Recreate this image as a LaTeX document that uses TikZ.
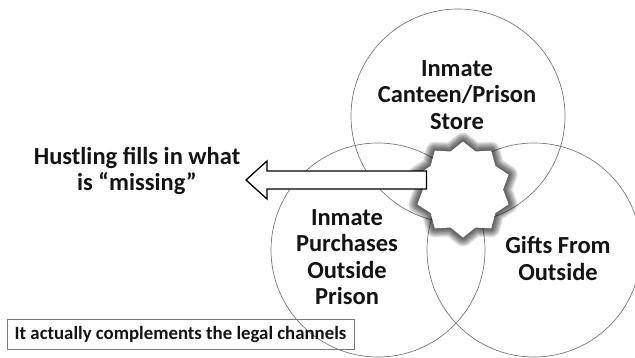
\documentclass[tikz,border=0pt]{standalone}
\usepackage{fontspec}
\setmainfont{Carlito}
\usetikzlibrary{shapes.geometric}
\definecolor{ink}{RGB}{20,20,20}
\definecolor{ring}{RGB}{120,120,120}
\tikzset{
  ringc/.style={circle, draw=ring, line width=0.7pt, minimum size=214pt, inner sep=0pt},
  bigtxt/.style={font=\bfseries\fontsize{24.5}{26.5}\selectfont, text=ink, align=center, inner sep=0pt},
  starshape/.style={star, star points=10, star point ratio=1.2, minimum size=96pt, inner sep=0pt},
  glow/.style={starshape, draw=black, line join=round, opacity=0.1},
  boxtxt/.style={font=\bfseries\fontsize{18.8}{21}\selectfont, text=ink, draw=ring, line width=0.7pt, inner xsep=5pt, minimum height=30pt, minimum width=347pt}
}
\begin{document}
\begin{tikzpicture}[x=1pt,y=-1pt]
\useasboundingbox (0,0) rectangle (635,357);
\clip (0,0) rectangle (635,357);
\node[ringc] (ctop) at (458,116) {};
\node[ringc] (cleft) at (378,250) {};
\node[ringc] (cright) at (534,250) {};
\foreach \w in {18,16,14,12,10,8,6,4,2}
  \node[glow, line width=\w pt] at (463,189.5) {};
\node[starshape, fill=white] (star) at (463,189.5) {};
\coordinate (aT) at (426.5,171);
\coordinate (aB) at (426.5,189);
\coordinate (tip) at (246,180);
\draw[draw=black, line width=1.3pt, fill=white, line join=miter]
  (aT) -- (267,171) -- (267,161) -- (tip) -- (267,199) -- (267,189) -- (aB) -- cycle;
\node[bigtxt] (ttop) at (457,95) {Inmate\\Canteen/Prison\\Store};
\node[bigtxt] (tleft) at (347,257) {Inmate\\Purchases\\Outside\\Prison};
\node[bigtxt] (tright) at (558,258.5) {Gifts From\\Outside};
\node[bigtxt] (thust) at (137,171) {Hustling fills in what\\is “missing”};
\node[boxtxt] (tbox) at (180.5,334) {It actually complements the legal channels};
\end{tikzpicture}
\end{document}
